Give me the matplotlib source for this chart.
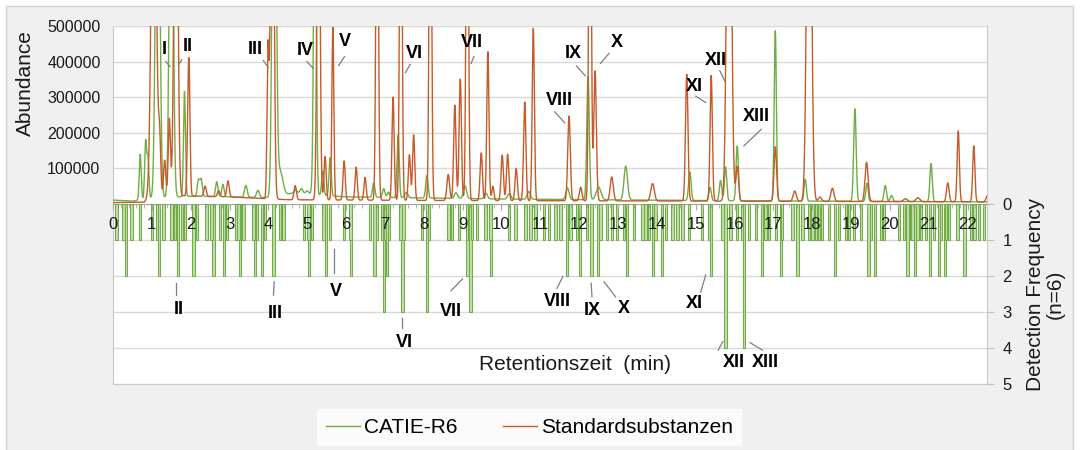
import numpy as np
import matplotlib
matplotlib.use("Agg")
import matplotlib.pyplot as plt
from matplotlib.patches import Rectangle
from matplotlib.lines import Line2D

plt.rcParams['font.family'] = ['Liberation Sans', 'DejaVu Sans']

# ---------------- data ----------------
# chromatogram peaks (retention time in min, abundance)
green_peak_t = [0.70, 0.84, 0.90, 1.15, 1.50, 1.84, 2.20, 2.27, 2.67, 2.83, 3.42, 3.73,
                4.15, 4.30, 4.70, 4.85, 5.00, 5.14, 5.20, 5.40, 5.59, 6.71, 6.97, 7.09,
                7.34, 7.55, 8.08, 8.83, 9.06, 9.60, 10.20, 10.70, 11.70, 12.23, 12.50,
                13.20, 14.85, 15.37, 15.64, 15.77, 16.07, 17.05, 17.82, 19.10, 19.41,
                19.88, 20.04, 21.06]
green_peak_h = [128000, 160000, 112000, 1300000, 1300000, 295000, 45000, 47000, 42000, 35000,
                33000, 20000, 1500000, 70000, 10000, 15000, 10000, 37000, 1200000, 68000,
                107000, 40000, 25000, 15000, 176000, 15000, 63000, 16000, 36000, 16000,
                16000, 22000, 33000, 346000, 36000, 95000, 80000, 37000, 57000, 95000,
                154000, 478000, 61000, 260000, 51000, 45000, 17000, 107000]
green_peak_w = [0.025, 0.025, 0.025, 0.05, 0.045, 0.025, 0.03, 0.03, 0.03, 0.03, 0.035, 0.035,
                0.045, 0.07, 0.04, 0.04, 0.04, 0.028, 0.03, 0.028, 0.028, 0.03, 0.03, 0.03,
                0.028, 0.04, 0.03, 0.04, 0.04, 0.04, 0.04, 0.04, 0.04, 0.032, 0.06,
                0.045, 0.032, 0.03, 0.03, 0.03, 0.03, 0.028, 0.03, 0.032, 0.03,
                0.032, 0.032, 0.03]
green_base_t = [0.0, 0.5, 0.9, 2.0, 4.0, 4.6, 6.0, 10.0, 16.0, 22.5]
green_base_h = [11000, 8000, 15000, 22000, 18000, 30000, 20000, 14000, 9000, 6000]

orange_peak_t = [1.05, 1.20, 1.33, 1.45, 1.62, 1.93, 1.96, 2.37, 2.72, 2.96, 3.99, 4.10,
                 4.69, 5.29, 5.46, 5.66, 5.95, 6.26, 6.49, 6.80, 7.21, 7.41, 7.63, 7.74,
                 8.17, 8.63, 8.80, 8.94, 9.12, 9.48, 9.65, 9.78, 10.02, 10.16, 10.38,
                 10.60, 10.82, 11.74, 12.04, 12.28, 12.41, 12.84, 13.89, 14.77, 15.40,
                 15.86, 16.07, 17.05, 17.55, 17.92, 18.20, 18.52, 19.40, 20.40, 20.72,
                 21.49, 21.76, 22.16, 22.52]
orange_peak_h = [1200000, 150000, 99000, 216000, 1300000, 150000, 302000, 29000, 17000, 45000,
                 410000, 1400000, 40000, 1300000, 122000, 485000, 110000, 93000, 64000,
                 1200000, 290000, 1200000, 128000, 184000, 1200000, 73000, 268000, 341000,
                 1200000, 134000, 418000, 40000, 128000, 130000, 90000, 277000, 484000,
                 238000, 38000, 1300000, 365000, 67000, 49000, 356000, 353000, 1400000,
                 97000, 153000, 29000, 1400000, 12000, 37000, 110000, 8000, 11000,
                 53000, 199000, 157000, 19000]
orange_peak_w = [0.06, 0.028, 0.028, 0.028, 0.045, 0.025, 0.025, 0.03, 0.03, 0.03, 0.025, 0.04,
                 0.03, 0.035, 0.028, 0.025, 0.028, 0.028, 0.028, 0.03, 0.028, 0.03, 0.028, 0.028,
                 0.03, 0.035, 0.03, 0.03, 0.03, 0.03, 0.028, 0.028, 0.03, 0.03, 0.03,
                 0.03, 0.028, 0.033, 0.033, 0.03, 0.033, 0.04, 0.045, 0.032, 0.03,
                 0.055, 0.033, 0.033, 0.04, 0.055, 0.04, 0.04, 0.04, 0.05, 0.05,
                 0.033, 0.028, 0.028, 0.04]
orange_base_t = [0.0, 0.8, 1.0, 3.0, 4.5, 8.0, 16.0, 22.5]
orange_base_h = [4000, 5000, 25000, 20000, 12000, 10000, 8000, 6000]

# detection frequency bars (retention time in min, number of samples)
freq_t = [0.34, 1.19, 1.67, 2.07, 2.59, 2.86, 3.27, 3.66, 3.83, 4.13, 5.05, 5.49, 6.13,
          6.73, 6.97, 7.05, 7.45, 8.08, 9.13, 9.20, 9.73,
          11.69, 12.02, 12.32, 12.49, 13.24, 13.91, 14.13, 15.40, 15.77, 16.25, 16.70,
          17.19, 17.62, 18.58, 19.45, 19.61, 20.45, 20.64, 21.04, 21.27, 21.42, 21.92,
          0.09, 0.27, 0.48, 0.70, 1.00, 1.13, 1.30, 1.51, 1.60, 1.77, 1.86, 2.16, 2.41,
          2.54, 2.76, 2.93, 3.17, 3.23, 3.36, 3.62, 3.70, 3.92, 4.30, 4.39, 4.91, 5.03,
          5.12, 5.42, 5.59, 5.94, 6.11, 6.62, 6.80, 6.92, 7.01, 7.10, 7.40, 7.48, 7.96,
          8.13, 8.64, 8.73, 8.90, 9.12, 9.25, 9.37, 9.59, 9.72, 10.19, 10.36, 10.62,
          10.75, 10.88, 11.09, 11.22, 11.39, 11.52, 11.78, 11.95, 12.21, 12.55, 12.72,
          12.85, 12.98, 13.15, 13.41, 13.63, 13.71, 13.80, 13.97, 14.23, 14.40, 14.53,
          14.66, 14.83, 15.17, 15.34, 15.69, 15.90, 16.07, 16.20, 16.37, 16.55, 16.80,
          16.89, 17.06, 17.23, 17.49, 17.75, 17.92, 18.01, 18.09, 18.18, 18.26, 18.44,
          18.69, 18.87, 18.95, 19.08, 19.25, 19.51, 19.77, 19.85, 20.24, 20.37, 20.54,
          20.58, 20.71, 20.80, 20.93, 21.14, 21.32, 21.44, 21.53, 21.74, 22.09, 22.18,
          22.30, 22.43]
freq_n = [2, 2, 2, 2, 2, 2, 2, 2, 2, 2, 2, 2, 2,
          2, 3, 2, 3, 3, 2, 3, 2,
          2, 2, 2, 2, 2, 2, 2, 2, 4, 4, 2,
          2, 2, 2, 2, 2, 2, 2, 2, 2, 2, 2] + [1] * 119

series_names = ['CATIE-R6', 'Standardsubstanzen']
x_ticks = list(range(0, 23))
abund_ticks = [100000, 200000, 300000, 400000, 500000]
freq_ticks = [0, 1, 2, 3, 4, 5]

# annotation layout: (label, text_x, text_y, line_x0, line_y0, line_x1, line_y1)
top_notes = [
    ('I', 1.31, 435000, 1.36, 400000, 1.47, 386000),
    ('II', 1.92, 442000, 1.77, 405000, 1.68, 390000),
    ('III', 3.66, 435000, 3.87, 403000, 4.00, 383000),
    ('IV', 4.95, 431000, 4.99, 400000, 5.16, 381000),
    ('V', 5.98, 456000, 5.96, 414000, 5.81, 389000),
    ('VI', 7.76, 423000, 7.65, 392000, 7.53, 369000),
    ('VII', 9.24, 453000, 9.29, 414000, 9.22, 395000),
    ('VIII', 11.49, 292000, 11.37, 259000, 11.63, 228000),
    ('IX', 11.86, 423000, 11.93, 388000, 12.16, 360000),
    ('X', 12.96, 453000, 12.77, 423000, 12.55, 395000),
    ('XI', 14.96, 331000, 15.00, 303000, 15.26, 285000),
    ('XII', 15.53, 404000, 15.62, 375000, 15.75, 345000),
    ('XIII', 16.55, 247000, 16.69, 210000, 16.24, 163000),
]
bot_notes = [
    ('II', 1.70, 2.94, 1.62, 2.20, 1.62, 2.53),
    ('III', 4.18, 3.04, 4.15, 2.16, 4.13, 2.53),
    ('V', 5.75, 2.44, 5.68, 1.26, 5.68, 1.91),
    ('VI', 7.51, 3.85, 7.45, 3.18, 7.45, 3.45),
    ('VII', 8.70, 2.99, 8.70, 2.41, 9.00, 2.08),
    ('VIII', 11.43, 2.71, 11.43, 2.34, 11.58, 2.02),
    ('IX', 12.34, 2.97, 12.31, 2.20, 12.33, 2.58),
    ('X', 13.16, 2.90, 12.64, 2.16, 12.94, 2.58),
    ('XI', 14.96, 2.76, 15.13, 2.44, 15.26, 1.97),
    ('XII', 15.98, 4.40, 15.58, 4.06, 15.70, 3.82),
    ('XIII', 16.80, 4.41, 16.40, 3.85, 16.72, 4.06),
]

# ---------------- figure ----------------
W, H = 1080, 450
fig = plt.figure(figsize=(W / 100, H / 100), dpi=100, facecolor='white')
fig.patches.append(Rectangle((6 / W, 0), (1073 - 6) / W, (H - 6) / H, transform=fig.transFigure,
                             facecolor='#f0f0f0', edgecolor='#d4d4d4', linewidth=1.0, zorder=-10))

L, R = 113, 987
ax_top = fig.add_axes([L / W, 1 - 204 / H, (R - L) / W, 178 / H])
ax_bot = fig.add_axes([L / W, 1 - 384 / H, (R - L) / W, 180 / H])

green = '#70ad47'
orange = '#c65a28'
grid_c = '#d9d9d9'
text_c = '#1a1a1a'

# chromatogram traces
t = np.linspace(0, 22.5, 15001)

def trace(pt, ph, pw, bt, bh):
    y = np.interp(t, bt, bh)
    for a, h, w in zip(pt, ph, pw):
        y = y + h * np.exp(-0.5 * ((t - a) / w) ** 2)
    return y

g_y = trace(green_peak_t, green_peak_h, green_peak_w, green_base_t, green_base_h)
o_y = trace(orange_peak_t, orange_peak_h, orange_peak_w, orange_base_t, orange_base_h)
ax_top.plot(t, g_y, color=green, lw=1.0, zorder=3)
ax_top.plot(t, o_y, color=orange, lw=1.0, zorder=4)
ax_top.set_xlim(0, 22.5)
ax_top.set_ylim(0, 500000)
ax_top.set_yticks(abund_ticks)
ax_top.set_yticklabels([str(v) for v in abund_ticks])
ax_top.tick_params(axis='y', length=0, pad=9, labelsize=11.5, labelcolor=text_c)
ax_top.set_xticks([])
ax_top.grid(axis='y', color=grid_c, lw=1.0)
ax_top.set_axisbelow(True)
for s in ['top', 'bottom']:
    ax_top.spines[s].set_visible(False)
for s in ['left', 'right']:
    ax_top.spines[s].set_color('#c8c8c8')

# detection frequency bars
ax_bot.bar(freq_t, freq_n, width=0.06, align='center', facecolor='#bfdea8',
           edgecolor=green, linewidth=0.75, zorder=3)
ax_bot.set_xlim(0, 22.5)
ax_bot.set_ylim(5, 0)
ax_bot.set_yticks(freq_ticks)
ax_bot.yaxis.tick_right()
ax_bot.tick_params(axis='y', length=5, width=0.8, color='#bfbfbf', pad=6, labelsize=12,
                   labelcolor=text_c)
ax_bot.grid(axis='y', color=grid_c, lw=1.0)
ax_bot.set_axisbelow(True)
ax_bot.xaxis.set_ticks_position('top')
ax_bot.set_xticks(x_ticks)
ax_bot.set_xticks(np.arange(0, 22.51, 0.2), minor=True)
ax_bot.tick_params(axis='x', which='major', direction='in', length=4, color='#a6a6a6',
                   labeltop=True, labelbottom=False, pad=-20, labelsize=12, labelcolor=text_c)
ax_bot.tick_params(axis='x', which='minor', direction='in', length=3, color='#a6a6a6')
ax_bot.xaxis.set_zorder(5)
for s in ax_bot.spines.values():
    s.set_color('#c8c8c8')
ax_bot.spines['top'].set_color('#a6a6a6')

ax_bot.yaxis.set_label_position('right')
ax_bot.set_ylabel('Detection Frequency\n(n=6)', fontsize=15, color=text_c, labelpad=10,
                  linespacing=1.05)
ax_bot.text((575 - L) / (R - L), (384 - 365) / 180, 'Retentionszeit  (min)', transform=ax_bot.transAxes,
            ha='center', va='center', fontsize=15, color=text_c)
fig.text(25 / W, 1 - 83 / H, 'Abundance', rotation=90, ha='center', va='center',
         fontsize=15, color=text_c)

# annotations
for lab, tx, ty, x0, y0, x1, y1 in top_notes:
    ax_top.text(tx, ty, lab, ha='center', va='center', fontsize=13, fontweight='bold',
                color='black', zorder=6)
    ax_top.plot([x0, x1], [y0, y1], color='#7f7f7f', lw=0.9, zorder=6)
for lab, tx, ty, x0, y0, x1, y1 in bot_notes:
    ax_bot.text(tx, ty, lab, ha='center', va='center', fontsize=13, fontweight='bold',
                color='black', zorder=6)
    ax_bot.plot([x0, x1], [y0, y1], color='#7f7f7f', lw=0.9, zorder=6)

# legend
handles = [Line2D([], [], color=green, lw=1.0), Line2D([], [], color=orange, lw=1.0)]
leg = fig.legend(handles, series_names, loc='center', bbox_to_anchor=(529.5 / W, 1 - 427.5 / H),
                 ncol=2, frameon=True, fancybox=False, facecolor='white', edgecolor='white',
                 fontsize=15, handlelength=1.6, handletextpad=0.2, columnspacing=2.2,
                 borderpad=0.45, borderaxespad=0)
leg.get_frame().set_linewidth(0)

fig.savefig('out.png', dpi=100, facecolor=fig.get_facecolor())
